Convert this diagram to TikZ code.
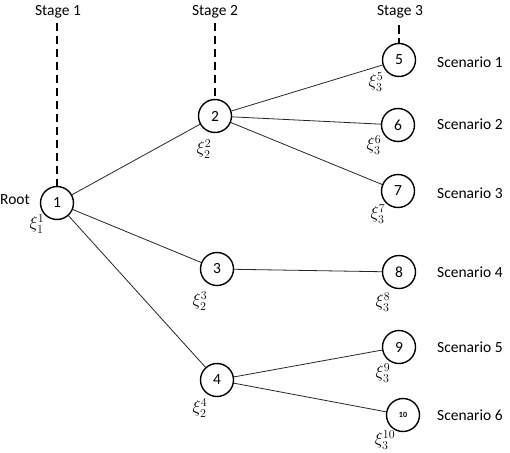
\documentclass[tikz,border=0pt]{standalone}
\usepackage{fontspec}
\setmainfont{Carlito}
\begin{document}
\begin{tikzpicture}[x=1pt,y=-1pt,
  treenode/.style={circle,draw,line width=1.4pt,minimum size=33pt,inner sep=0pt,font=\fontsize{15.5}{18}\selectfont},
  lbl/.style={font=\fontsize{15.5}{18}\selectfont,inner sep=0pt},
  xilbl/.style={font=\fontsize{17}{19}\selectfont,inner sep=0pt},
  stageline/.style={line width=2.6pt,dash pattern=on 8pt off 5pt},
  edge/.style={line width=0.8pt,black!85}]
\useasboundingbox (0,0) rectangle (510,452);
% nodes
\node[treenode] (n1) at (57,203) {1};
\node[treenode] (n2) at (215,116) {2};
\node[treenode] (n3) at (217,269) {3};
\node[treenode] (n4) at (217,380) {4};
\node[treenode] (n5) at (399,60) {5};
\node[treenode] (n6) at (398,125) {6};
\node[treenode] (n7) at (398,191) {7};
\node[treenode] (n8) at (399,272) {8};
\node[treenode] (n9) at (399,347) {9};
\node[treenode] (n10) at (403,415) {\fontsize{8}{9}\selectfont\rmfamily\bfseries 10};
% edges
\draw[edge] (n1) -- (n2);
\draw[edge] (n1) -- (n3);
\draw[edge] (n1) -- (n4);
\draw[edge] (n2) -- (n5);
\draw[edge] (n2) -- (n6);
\draw[edge] (n2) -- (n7);
\draw[edge] (n3) -- (n8);
\draw[edge] (n4) -- (n9);
\draw[edge] (n4) -- (n10);
% stage labels
\node[lbl] (s1) at (58,12) {Stage 1};
\node[lbl] (s2) at (215,12) {Stage 2};
\node[lbl] (s3) at (400,12) {Stage 3};
\coordinate (s1b) at (57,23);
\coordinate (s2b) at (215,23);
\coordinate (s3b) at (399,25);
\draw[stageline] (s1b) -- (n1.north);
\draw[stageline] (s2b) -- (n2.north);
\draw[stageline,dash pattern=on 9pt off 4pt] (s3b) -- (n5.north);
% root
\node[lbl] (root) at (15,200) {Root};
% xi labels
\node[xilbl] (x1) at (37,224) {$\xi_1^1$};
\node[xilbl] (x2) at (204,149) {$\xi_2^2$};
\node[xilbl] (x3) at (200,301) {$\xi_2^3$};
\node[xilbl] (x4) at (200,408) {$\xi_2^4$};
\node[xilbl] (x5) at (376,82) {$\xi_3^5$};
\node[xilbl] (x6) at (374,145) {$\xi_3^6$};
\node[xilbl] (x7) at (378,214) {$\xi_3^7$};
\node[xilbl] (x8) at (383,302) {$\xi_3^8$};
\node[xilbl] (x9) at (383,373) {$\xi_3^9$};
\node[xilbl] (x10) at (385,440) {$\xi_3^{10}$};
% scenarios
\node[lbl,anchor=west] (c1) at (437,62) {Scenario 1};
\node[lbl,anchor=west] (c2) at (437,124) {Scenario 2};
\node[lbl,anchor=west] (c3) at (437,193) {Scenario 3};
\node[lbl,anchor=west] (c4) at (437,272) {Scenario 4};
\node[lbl,anchor=west] (c5) at (437,347) {Scenario 5};
\node[lbl,anchor=west] (c6) at (437,415) {Scenario 6};
\end{tikzpicture}
\end{document}
